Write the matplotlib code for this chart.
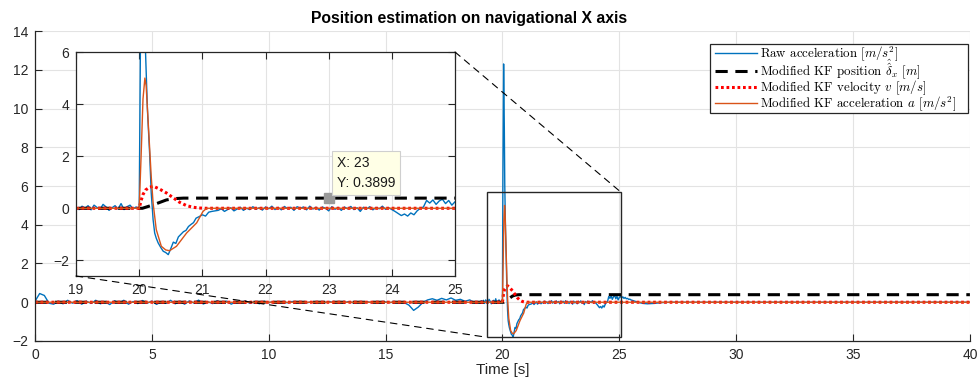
import matplotlib
matplotlib.use("Agg")
import matplotlib.pyplot as plt
import numpy as np
from matplotlib.patches import Rectangle, ConnectionPatch
from matplotlib.lines import Line2D

plt.rcParams['font.family'] = ['Liberation Sans', 'DejaVu Sans']
plt.rcParams['mathtext.fontset'] = 'cm'

# raw acceleration
raw_a0 = [0.05, 0.45, 0.35, -0.05, -0.1, 0.05, -0.08, 0.1, -0.05, 0.08,
          -0.1, 0.05, -0.06, 0.1, -0.08, 0.02, -0.12, 0.08, -0.04, 0.1,
          -0.1, 0.04, -0.07, 0.09, -0.05, 0.06, -0.11, 0.03, -0.06, 0.1,
          -0.08, 0.05, -0.1, 0.07, -0.04, 0.11, -0.09, 0.02, -0.07, 0.08,
          -0.05, 0.06, -0.1, 0.04, -0.03, 0.07, -0.06, 0.03, -0.08, 0.05,
          -0.02, 0.03, -0.04, 0.02, -0.03, 0.04, -0.02, 0.03, -0.04, 0.02,
          -0.03, 0.03, -0.02, 0.04, -0.03, 0.02, -0.04, 0.03, -0.02, 0.02,
          -0.03, 0.03, -0.02, 0.02, -0.03, 0.02, -0.02, 0.03, -0.03, -0.02,
          -0.15, -0.42, -0.25, 0.0, 0.12, 0.18, 0.1, 0.2, 0.12, 0.22,
          0.1, 0.15, 0.05, 0.12, -0.02]
raw_a1 = [0.02, -0.05, 0.08, 0.0, 0.1, -0.06, 0.12, 0.03, -0.04, 0.15, 0.05,
          -0.08, 0.02, 0.1, -0.03, 0.18, -0.05, 0.06, 0.12, -0.02, 0.05]
raw_t2 = [20.0, 20.02, 20.05, 20.08, 20.10, 20.13, 20.165, 20.19, 20.22, 20.245,
          20.27, 20.30, 20.34, 20.38, 20.42, 20.46, 20.50, 20.54, 20.58, 20.62,
          20.66, 20.70, 20.74, 20.78, 20.82, 20.86, 20.90, 20.95, 21.0, 21.05,
          21.1, 21.15, 21.2]
raw_a2 = [0.0, 6.5, 12.3, 9.0, 6.0, 3.8, 2.1, 0.6, -0.44, -0.95,
          -1.15, -1.33, -1.5, -1.65, -1.7, -1.78, -1.55, -1.3, -1.35, -1.1,
          -1.0, -0.9, -0.85, -0.7, -0.62, -0.55, -0.38, -0.32, -0.25, -0.3,
          -0.15, -0.12, -0.1]
raw_a3 = [-0.08, -0.02, -0.12, -0.05, 0.02, -0.1, -0.03, 0.04, -0.08, 0.0,
          -0.05, 0.06, -0.04, 0.02, -0.07, 0.05, -0.02, 0.08, -0.05, 0.03,
          -0.06, 0.07, -0.02, 0.04, -0.08, 0.06, 0.0, 0.05, -0.06, 0.08,
          -0.03, 0.04, -0.07, 0.05, 0.0, -0.1, 0.06, -0.04, 0.03, -0.08,
          0.05, -0.02, 0.07, -0.05, 0.02, -0.12, 0.04, -0.03, 0.06, -0.06,
          0.03, -0.02, 0.08, -0.04, 0.02, -0.05, -0.12, -0.2, -0.28, -0.22,
          -0.3, -0.18, -0.25, -0.1, 0.0, 0.05, 0.3, 0.2, 0.32, 0.15,
          0.28, 0.35, 0.18, 0.3, 0.12, 0.25, 0.3, 0.22, 0.28, 0.2,
          0.25, 0.18, 0.2, 0.15, 0.16, 0.12]
raw_t4 = [25.6, 25.8, 26.0, 26.2, 26.5, 26.8, 27.2, 40.0]
raw_a4 = [0.08, 0.0, -0.06, -0.08, -0.06, -0.02, 0.0, 0.0]

raw_t = np.concatenate([np.linspace(0, 18.8, len(raw_a0)),
                        np.linspace(19.0, 19.95, len(raw_a1)),
                        raw_t2,
                        np.linspace(21.25, 25.5, len(raw_a3)),
                        raw_t4])
raw_a = np.concatenate([raw_a0, raw_a1, raw_a2, raw_a3, raw_a4])

# modified KF estimates
pos_t = [0, 20.05, 20.22, 20.43, 20.55, 20.7, 40]
pos_x = [0, 0, 0.13, 0.32, 0.37, 0.3899, 0.3899]

vel_t = [0, 20.0, 20.03, 20.06, 20.1, 20.16, 20.22, 20.32, 20.43, 20.54,
         20.64, 20.75, 20.85, 20.95, 21.05, 40]
vel_v = [0, 0, 0.3, 0.53, 0.7, 0.8, 0.85, 0.74, 0.59, 0.4,
         0.23, 0.1, 0.04, 0.01, 0, 0]

acc_t = [0, 20.0, 20.03, 20.06, 20.09, 20.11, 20.14, 20.19, 20.22, 20.27,
         20.35, 20.42, 20.48, 20.59, 20.75, 20.91, 21.01, 21.07, 40]
acc_a = [0, 0, 2.0, 4.2, 5.0, 4.7, 3.4, 1.23, 0.2, -0.82,
         -1.46, -1.6, -1.63, -1.46, -0.95, -0.56, -0.12, 0, 0]

labels = [r'Raw acceleration $[m/s^2]$',
          r'Modified KF position $\hat{\hat{\delta}}_x$ $[m]$',
          r'Modified KF velocity $v$ $[m/s]$',
          r'Modified KF acceleration $a$ $[m/s^2]$']

tip_x, tip_y = 23, 0.3899

dark = '#262626'
styles = [dict(color='#0072BD', lw=1.0),
          dict(color='black', lw=2.2, dashes=(4, 2.5)),
          dict(color='red', lw=2.2, dashes=(0.9, 0.9)),
          dict(color='#D95319', lw=1.0)]
series = [(raw_t, raw_a), (pos_t, pos_x), (vel_t, vel_v), (acc_t, acc_a)]


def draw_lines(a):
    for (t, y), st, lab in zip(series, styles, labels):
        a.plot(t, y, label=lab, **st)


fig = plt.figure(figsize=(9.8, 3.83), dpi=100)
ax = fig.add_axes([0.0357, 0.1097, 0.954, 0.8093])
draw_lines(ax)
ax.set_xlim(0, 40)
ax.set_ylim(-2, 14)
ax.set_xticks(np.arange(0, 41, 5))
ax.set_yticks(np.arange(-2, 15, 2))
ax.grid(True, color='#e3e3e3', lw=0.8)
ax.set_axisbelow(True)
for s in ['top', 'right']:
    ax.spines[s].set_visible(False)
for s in ['left', 'bottom']:
    ax.spines[s].set_color(dark)
    ax.spines[s].set_linewidth(0.9)
ax.tick_params(direction='in', length=5, labelsize=10, colors=dark, pad=5)
ax.set_xlabel('Time [s]', fontsize=11, color=dark, labelpad=1)
fig.text(469 / 980, 1 - 19 / 383, 'Position estimation on navigational X axis',
         fontsize=11.3, fontweight='bold', ha='center', va='center')

# legend box drawn by hand so the row pitch matches (pixels from top-left)
W, H = 980, 383
fig.add_artist(Rectangle((710 / W, 1 - 113 / H), 258 / W, 69 / H,
                         transform=fig.transFigure, fc='white', ec=dark,
                         lw=0.9, zorder=3))
for row_y, st, lab in zip([53, 71, 87, 103], styles, labels):
    fy = 1 - row_y / H
    fig.add_artist(Line2D([715 / W, 757 / W], [fy, fy],
                          transform=fig.transFigure, zorder=4, **st))
    fig.text(760 / W, 1 - (row_y + 4) / H, lab, family='cmr10', fontsize=9.3,
             va='baseline', ha='left', zorder=4)

# zoom rectangle
ax.add_patch(Rectangle((19.34, -1.81), 25.07 - 19.34, 5.68 + 1.81, fill=False,
                       edgecolor=dark, lw=1.0, zorder=5))

# inset
ax_in = fig.add_axes([0.0776, 0.2794, 0.3867, 0.5848])
draw_lines(ax_in)
ax_in.set_xlim(19, 25)
ax_in.set_ylim(-2.6, 6)
ax_in.set_yticks([-2, 0, 2, 4, 6])
ax_in.grid(True, color='#e3e3e3', lw=0.8)
ax_in.set_axisbelow(True)
for s in ax_in.spines.values():
    s.set_color(dark)
    s.set_linewidth(0.9)
ax_in.tick_params(direction='in', length=5, labelsize=10, colors=dark,
                  top=True, right=True, pad=5)

# data tip
ax_in.plot([tip_x], [tip_y], marker='s', ms=7, color='#9a9a9a', zorder=6)
ax_in.annotate('X: 23\nY: 0.3899', (tip_x, tip_y), xytext=(6, 6),
               textcoords='offset points', fontsize=10, color='#1a1a1a',
               ha='left', va='bottom', linespacing=1.5, zorder=7,
               bbox=dict(boxstyle='square,pad=0.35', fc='#ffffe6',
                         ec='#cfcfcf', lw=0.8))

# dashed connectors between inset and rectangle
for xa, xb in [((1, 1), (25.07, 5.68)), ((0, 0), (19.34, -1.81))]:
    cp = ConnectionPatch(xyA=xa, coordsA=ax_in.transAxes, xyB=xb,
                         coordsB=ax.transData, color='black', lw=0.8,
                         linestyle=(0, (6, 5)))
    fig.add_artist(cp)

fig.savefig('out.png', dpi=100)
